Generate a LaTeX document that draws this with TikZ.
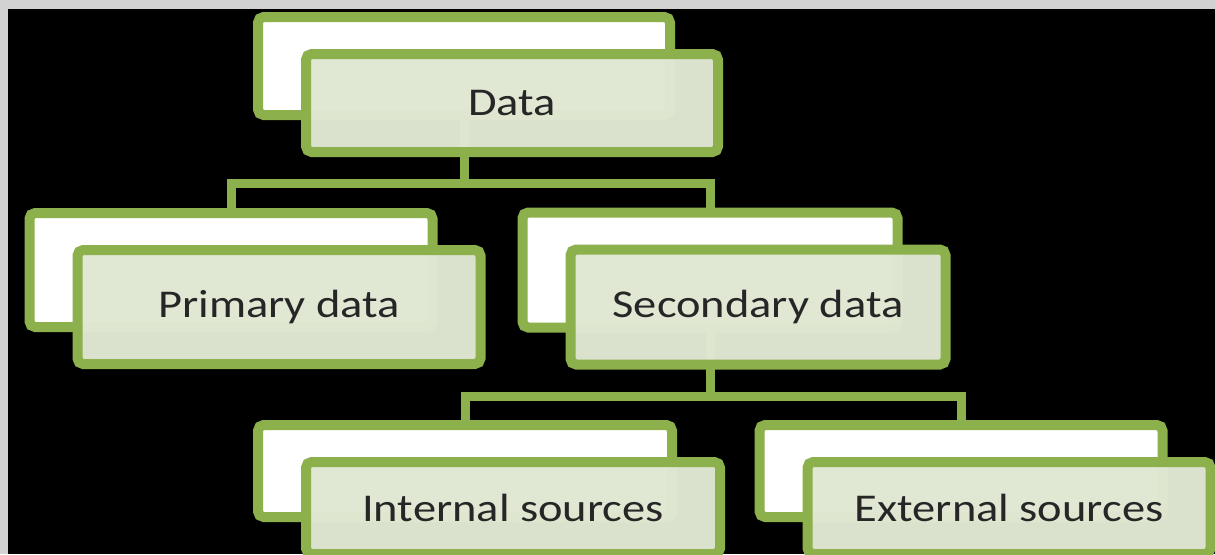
\documentclass[tikz,border=0pt]{standalone}
\usepackage{fontspec}
\setmainfont{Carlito}[FakeStretch=1.18]
\usetikzlibrary{positioning}

\definecolor{leafgreen}{RGB}{140,176,76}
\definecolor{paleleaf}{RGB}{224,232,211}
\definecolor{inkgray}{RGB}{38,38,38}

\tikzset{
	backbox/.style 2 args={draw=leafgreen, line width=10*0.025cm, fill=white,
		rounded corners=4pt, inner sep=0pt,
		minimum width={(#1-10)*0.025cm}, minimum height={(#2-10)*0.025cm}},
	frontbox/.style 2 args={backbox={#1}{#2}, fill=paleleaf, fill opacity=0.975,
		text opacity=1, text=inkgray, font=\fontsize{28}{30}\selectfont},
	link/.style={draw=leafgreen, line width=9*0.025cm}
}

% name / centre x / centre y / width / height / text
\newcommand\boxlist{data/464/66/422/108/Data,
	prim/231/270/413/124/Primary data,
	sec/710/270/385/125/Secondary data,
	int/465/471/424/102/Internal sources,
	ext/961/471/413/102/External sources}

\begin{document}
\begin{tikzpicture}[x=0.025cm, y=-0.025cm]
\clip (0,0) rectangle (1215,554);
\fill [gray!35] (0,0) rectangle (1215,554);
\fill [black] (8,9) rectangle (1215,554);

\foreach \name/\cx/\cy/\w/\h/\txt in \boxlist
	\node [backbox={\w}{\h}] (\name) at (\cx,\cy) {};

\draw [link] (data.south) -- (data.south |- 0,183) -| (prim.north);
\draw [link] (data.south) -- (data.south |- 0,183) -| (sec.north);
\draw [link] (sec.south) -- (sec.south |- 0,396) -| (int.north);
\draw [link] (sec.south) -- (sec.south |- 0,396) -| (ext.north);

\foreach \name/\cx/\cy/\w/\h/\txt in \boxlist
	\node [frontbox={\w}{\h}] (\name-f) at (\cx+48,\cy+37) {\txt};
\end{tikzpicture}
\end{document}
